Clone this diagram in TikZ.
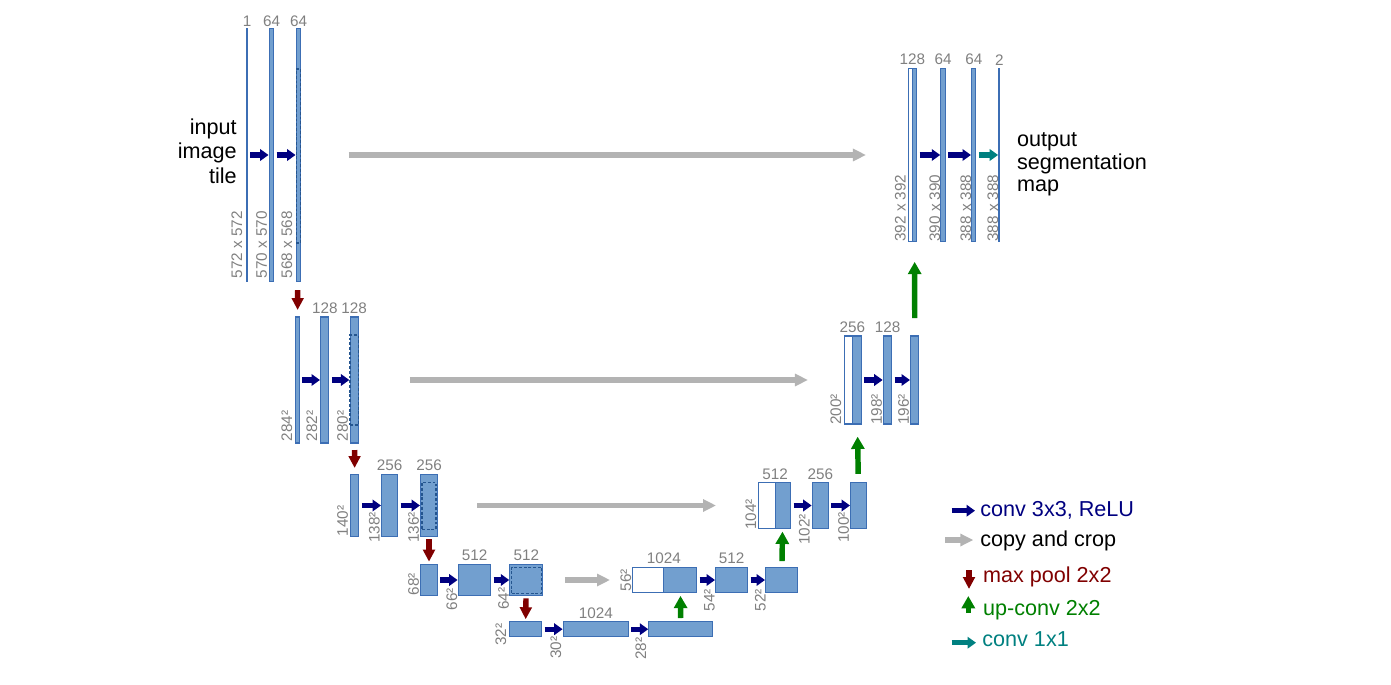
\documentclass[tikz,border=0pt]{standalone}
\usepackage{fontspec}
\setmainfont{Liberation Sans}
\usetikzlibrary{arrows.meta,positioning}

\definecolor{mapfill}{HTML}{729FCF}
\definecolor{mapline}{HTML}{3C6EB4}
\definecolor{cropline}{HTML}{24558F}
\definecolor{dimgray}{HTML}{808080}
\definecolor{copygray}{HTML}{B3B3B3}
\definecolor{convblue}{HTML}{000080}
\definecolor{poolred}{HTML}{800000}
\definecolor{upgreen}{HTML}{008000}
\definecolor{outteal}{HTML}{008080}

\def\pxu{0.569pt}

\tikzset{
	fmap/.style 2 args={draw=mapline, fill=mapfill, line width=0.6pt, inner sep=0pt, outer sep=0pt, minimum width=#1*\pxu, minimum height=#2*\pxu},
	cropmap/.style 2 args={fmap={#1}{#2}, fill=white},
	cropmark/.style 2 args={draw=cropline, dash pattern=on 1.6pt off 1.1pt, line width=0.8pt, inner sep=0pt, minimum width=#1*\pxu, minimum height=#2*\pxu},
	chan/.style={text=dimgray, font=\fontsize{8.7}{10}\selectfont, inner sep=0pt},
	dimlab/.style={chan, rotate=90, anchor=south west},
	conv/.style={-{Triangle[length=4.8pt,width=6.5pt]}, line width=2.9pt, draw=convblue, shorten <=1.7pt, shorten >=0.4pt},
	outconv/.style={conv, draw=outteal},
	copycrop/.style={-{Triangle[length=7.4pt,width=6.8pt]}, line width=3.4pt, draw=copygray},
	pool/.style={-{Triangle[length=6.8pt,width=6.6pt]}, line width=3.1pt, draw=poolred},
	upconv/.style={-{Triangle[length=7pt,width=7.4pt]}, line width=3.1pt, draw=upgreen},
	tiletext/.style={inner sep=0pt},
	legtext/.style={font=\fontsize{12.3}{14}\selectfont, anchor=base west, inner sep=0pt}
}

\begin{document}
\begin{tikzpicture}[x=0.02cm, y=-0.02cm]
	\useasboundingbox (0,0) rectangle (1391,685);

	\node[tiletext, align=right, anchor=north east, font=\fontsize{12.3}{14.05}\selectfont] (intile) at (237,118.2) {input\\image\\tile};
	\node[tiletext, align=left, anchor=north west, font=\fontsize{12.3}{12.8}\selectfont] (outmap) at (1016.7,132.2) {output\\segmentation\\map};

	\node[fmap={1}{254}] (l1a) at (247,155) {};
	\node[fmap={4.5}{254}] (l1b) at (271.5,155) {};
	\node[fmap={4.5}{254}] (l1c) at (298.5,155) {};
	\node[cropmark={4.5}{174}] (l1c-crop) at (298.5,156) {};
	\node[chan, above=0.6pt of l1a] (l1a-ch) {1};
	\node[chan, above=0.6pt of l1b] (l1b-ch) {64};
	\node[chan, above=0.6pt of l1c] (l1c-ch) {64};
	\node[dimlab] (l1a-sz) at (242.5,278.5) {572 x 572};
	\node[dimlab] (l1b-sz) at (267.3,278.5) {570 x 570};
	\node[dimlab] (l1c-sz) at (292.5,278.5) {568 x 568};
	\draw[conv] (l1a) -- (l1b);
	\draw[conv] (l1b) -- (l1c);

	\node[fmap={4.3}{126}] (l2a) at (297.2,380) {};
	\node[fmap={8.3}{126}] (l2b) at (324.8,380) {};
	\node[fmap={8.3}{126}] (l2c) at (354.2,380) {};
	\node[cropmark={8.3}{90}] (l2c-crop) at (354.2,380) {};
	\node[chan, above=1.8pt of l2b] (l2b-ch) {128};
	\node[chan, above=1.8pt of l2c] (l2c-ch) {128};
	\node[dimlab] (l2a-sz) at (292.7,441.7) {284²};
	\node[dimlab] (l2b-sz) at (317.7,441.7) {282²};
	\node[dimlab] (l2c-sz) at (348.3,441.7) {280²};
	\draw[conv] (l2a) -- (l2b);
	\draw[conv] (l2b) -- (l2c);
	\draw[pool, shorten <=4.6pt, shorten >=4pt] (l1c) -- (l2a);

	\node[fmap={8.3}{62.4}] (l3a) at (354.8,505.5) {};
	\node[fmap={16}{62.4}] (l3b) at (389.7,505.5) {};
	\node[fmap={16.6}{62.4}] (l3c) at (429,505.5) {};
	\node[cropmark={14}{47}] (l3c-crop) at (429,505.8) {};
	\node[chan, above=1.8pt of l3b] (l3b-ch) {256};
	\node[chan, above=1.8pt of l3c] (l3c-ch) {256};
	\node[dimlab] (l3a-sz) at (348.3,536.7) {140²};
	\node[dimlab] (l3b-sz) at (380,543.3) {138²};
	\node[dimlab] (l3c-sz) at (419.3,543.3) {136²};
	\draw[conv] (l3a) -- (l3b);
	\draw[conv] (l3b) -- (l3c);
	\draw[pool, shorten <=4pt, shorten >=3.6pt] (l2c) -- (l3a);

	\node[fmap={16.6}{31.4}] (l4a) at (429,580) {};
	\node[fmap={32.4}{31.4}] (l4b) at (474.5,580) {};
	\node[fmap={32.7}{31.4}] (l4c) at (526.3,580) {};
	\node[cropmark={30}{26}] (l4c-crop) at (526.7,580.3) {};
	\node[chan, above=1.8pt of l4b] (l4b-ch) {512};
	\node[chan, above=1.8pt of l4c] (l4c-ch) {512};
	\node[dimlab] (l4a-sz) at (419.3,595.7) {68²};
	\node[dimlab] (l4b-sz) at (457.7,610.7) {66²};
	\node[dimlab] (l4c-sz) at (509.3,610) {64²};
	\draw[conv] (l4a) -- (l4b);
	\draw[conv] (l4b) -- (l4c);
	\draw[pool, shorten <=1.5pt, shorten >=1.5pt] (l3c) -- (l4a);

	\node[fmap={32.4}{15}] (l5a) at (525.5,629.2) {};
	\node[fmap={65}{15}] (l5b) at (595.8,629.2) {};
	\node[fmap={63.7}{15}] (l5c) at (680.8,629.2) {};
	\node[chan, above=1.8pt of l5b] (l5b-ch) {1024};
	\node[dimlab] (l5a-sz) at (506.7,646) {32²};
	\node[dimlab] (l5b-sz) at (561.7,659) {30²};
	\node[dimlab] (l5c-sz) at (646.7,660) {28²};
	\draw[conv] (l5a) -- (l5b);
	\draw[conv] (l5b) -- (l5c);
	\draw[pool, shorten <=1.5pt, shorten >=1.4pt] (l4c) -- (l5a);

	\node[cropmap={31.3}{25}] (r4w) at (648.3,580) {};
	\node[fmap={32.7}{25}, right=0pt of r4w] (r4b) {};
	\node[fmap={32}{25}] (r4c) at (731.7,580) {};
	\node[fmap={32}{25}] (r4d) at (781.7,580) {};
	\node[chan, above=1.8pt of r4w.north east] (r4b-ch) {1024};
	\node[chan, above=1.8pt of r4c] (r4c-ch) {512};
	\node[dimlab] (r4w-sz) at (631.7,591.7) {56²};
	\node[dimlab] (r4c-sz) at (715,611.7) {54²};
	\node[dimlab] (r4d-sz) at (766,611.7) {52²};
	\draw[conv] (r4b) -- (r4c);
	\draw[conv] (r4c) -- (r4d);
	\draw[upconv, shorten <=2.1pt, shorten >=1.9pt] (l5c) -- (r4b);
	\draw[copycrop, shorten <=12.7pt, shorten >=12.9pt] (l4c) -- (r4w);

	\node[cropmap={16.7}{45.6}] (r3w) at (766.7,505.5) {};
	\node[fmap={15.7}{45.6}, right=0pt of r3w] (r3b) {};
	\node[fmap={16}{45.6}] (r3c) at (820.3,505.5) {};
	\node[fmap={16}{45.6}] (r3d) at (858.7,505.5) {};
	\node[chan, above=1.8pt of r3w.north east] (r3b-ch) {512};
	\node[chan, above=1.8pt of r3c] (r3c-ch) {256};
	\node[dimlab] (r3w-sz) at (756.7,530) {104²};
	\node[dimlab] (r3c-sz) at (810,545) {102²};
	\node[dimlab] (r3d-sz) at (849.3,543.3) {100²};
	\draw[conv] (r3b) -- (r3c);
	\draw[conv] (r3c) -- (r3d);
	\draw[upconv, shorten <=3.6pt, shorten >=1.9pt] (r4d) -- (r3b);
	\draw[copycrop, shorten <=22.6pt, shorten >=24.1pt] (l3c) -- (r3w);

	\node[cropmap={8}{88}] (r2w) at (848.3,380) {};
	\node[fmap={8.8}{88}, right=0pt of r2w] (r2b) {};
	\node[fmap={8.3}{88}] (r2c) at (887.5,380) {};
	\node[fmap={8.3}{88}] (r2d) at (914.8,380) {};
	\node[chan, above=1.8pt of r2w.north east] (r2b-ch) {256};
	\node[chan, above=1.8pt of r2c] (r2c-ch) {128};
	\node[dimlab] (r2w-sz) at (841.7,425) {200²};
	\node[dimlab] (r2c-sz) at (882.3,425) {198²};
	\node[dimlab] (r2d-sz) at (909.3,425) {196²};
	\draw[conv] (r2b) -- (r2c);
	\draw[conv] (r2c) -- (r2d);
	\draw[upconv, shorten <=5pt, shorten >=7.2pt] (r3d) -- (r2b);
	\draw[copycrop, shorten <=29.4pt, shorten >=20.7pt] (l2c) -- (r2w);

	\node[cropmap={4}{173}] (r1w) at (910.3,155) {};
	\node[fmap={4.4}{173}, right=0pt of r1w] (r1b) {};
	\node[fmap={4.2}{173}] (r1c) at (943,155) {};
	\node[fmap={4.3}{173}] (r1d) at (973.8,155) {};
	\node[fmap={1}{173}] (r1e) at (999.3,155) {};
	\node[chan, above=1.8pt of r1w.north east] (r1b-ch) {128};
	\node[chan, above=1.8pt of r1c] (r1c-ch) {64};
	\node[chan, above=1.8pt of r1d] (r1d-ch) {64};
	\node[chan, above=1.8pt of r1e] (r1e-ch) {2};
	\node[dimlab] (r1w-sz) at (906,242) {392 x 392};
	\node[dimlab] (r1c-sz) at (940.7,242) {390 x 390};
	\node[dimlab] (r1d-sz) at (971.7,242) {388 x 388};
	\node[dimlab] (r1e-sz) at (998.5,242) {388 x 388};
	\draw[conv] (r1b) -- (r1c);
	\draw[conv] (r1c) -- (r1d);
	\draw[outconv] (r1d) -- (r1e);
	\draw[upconv, shorten <=10.2pt, shorten >=11.6pt] (r2d) -- (r1b);
	\draw[copycrop, shorten <=27.3pt, shorten >=24.1pt] (l1c) -- (r1w);

	\coordinate (lg1a) at (951.7,510.7);
	\coordinate (lg1b) at (975,510.7);
	\draw[conv, shorten <=0pt, shorten >=0pt] (lg1a) -- (lg1b);
	\node[legtext, text=convblue] (lg1) at (980,516.7) {conv 3x3, ReLU};

	\coordinate (lg2a) at (945,540);
	\coordinate (lg2b) at (973.3,540);
	\draw[copycrop] (lg2a) -- (lg2b);
	\node[legtext] (lg2) at (980,546.5) {copy and crop};

	\coordinate (lg3a) at (969,570);
	\coordinate (lg3b) at (969,589);
	\draw[pool] (lg3a) -- (lg3b);
	\node[legtext, text=poolred] (lg3) at (982.7,582.7) {max pool 2x2};

	\coordinate (lg4a) at (968.3,613);
	\coordinate (lg4b) at (968.3,596);
	\draw[upconv] (lg4a) -- (lg4b);
	\node[legtext, text=upgreen] (lg4) at (982.7,615) {up-conv 2x2};

	\coordinate (lg5a) at (951.7,642.7);
	\coordinate (lg5b) at (976,642.7);
	\draw[outconv, shorten <=0pt, shorten >=0pt] (lg5a) -- (lg5b);
	\node[legtext, text=outteal] (lg5) at (982,646) {conv 1x1};
\end{tikzpicture}
\end{document}
